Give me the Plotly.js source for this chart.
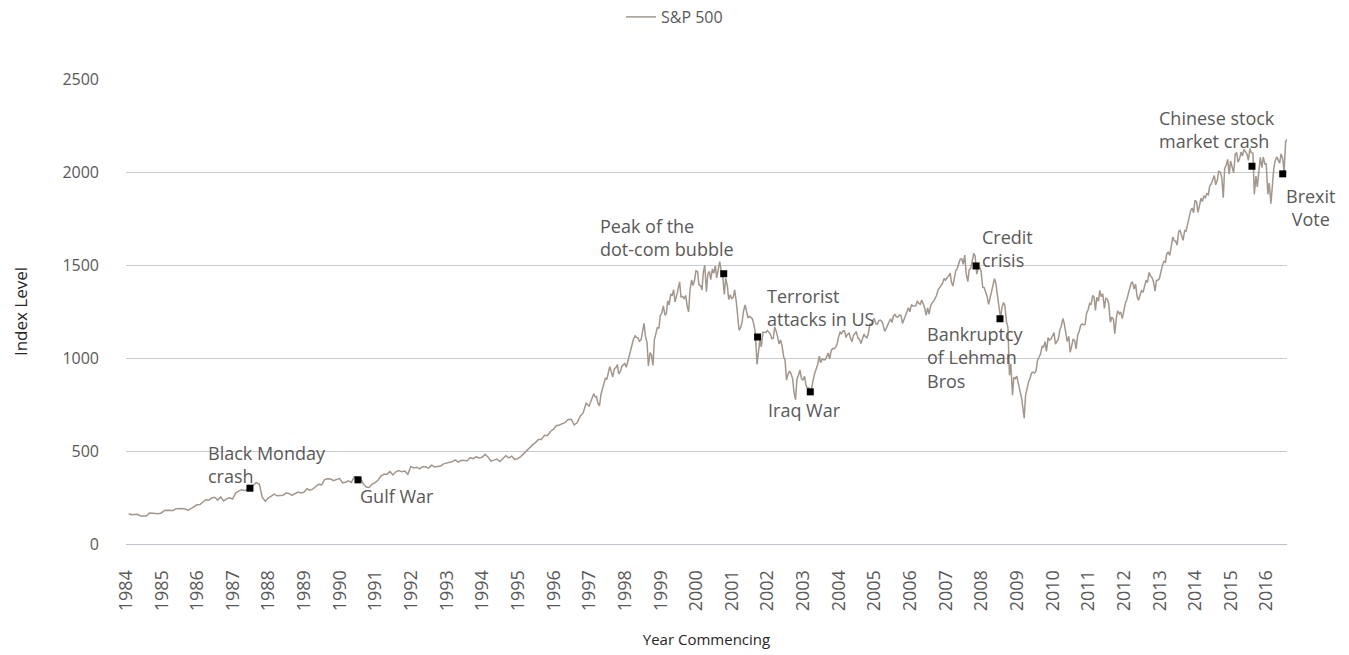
<!DOCTYPE html>
<html><head><meta charset="utf-8">
<script src="https://cdn.plot.ly/plotly-3.0.1.min.js"></script>
<style>html,body{margin:0;padding:0;background:#fff}#chart{width:1349px;height:655px}</style>
</head><body><div id="chart"></div>
<script>
// ---------------- DATA ----------------
const seriesName = 'S&P 500';
const xAxisTitle = 'Year Commencing';
const yAxisTitle = 'Index Level';

// Monthly index levels, Jan 1984 .. Dec 1996
const monthlyStartYear = 1984;
const monthlyLevels = [
  163,157,159,160,151,153,151,167,166,166,163,167,
  180,181,181,180,190,192,191,188,182,190,202,211,
  212,227,238,235,247,251,236,253,231,243,249,242,
  274,284,292,288,290,304,319,330,322,252,230,247,
  257,268,259,261,262,274,272,262,272,279,274,278,
  297,289,295,310,321,318,346,351,349,340,346,353,
  329,332,340,331,361,358,356,323,306,304,322,330,
  344,367,375,375,390,371,388,395,388,392,375,417,
  409,413,404,415,415,408,424,414,418,419,431,436,
  439,443,452,440,450,451,448,464,459,468,462,466,
  482,467,446,451,457,444,458,475,463,472,454,459,
  470,487,501,515,533,545,562,562,584,582,605,616,
  636,640,646,654,669,671,640,652,687,705,757,741
];

// Twice-monthly index levels (mid-month, month-end), Jan 1997 .. Jul 2016
const semiMonthlyStartYear = 1997;
const semiMonthlyLevels = [
  765,786, 808,791, 793,757, 743,801, 830,848, 893,885, 918,954, 924,899, 944,947, 965,915, 928,955, 963,970,
  950,980, 1020,1049, 1080,1101, 1119,1111, 1108,1090, 1098,1133, 1186,1120, 1083,957, 1029,1017, 960,1098, 1141,1163, 1162,1229,
  1244,1280, 1230,1238, 1307,1286, 1345,1335, 1367,1302, 1337,1373, 1409,1329, 1330,1320, 1337,1283, 1247,1363, 1420,1389, 1418,1469,
  1465,1394, 1388,1366, 1464,1499, 1356,1452, 1466,1421, 1479,1455, 1495,1431, 1492,1518, 1465,1437, 1342,1429, 1389,1315, 1340,1320,
  1326,1366, 1301,1240, 1150,1160, 1191,1249, 1285,1256, 1215,1224, 1215,1211, 1178,1134, 966,1041, 1097,1060, 1139,1139, 1136,1148,
  1139,1130, 1104,1107, 1166,1147, 1112,1076, 1097,1067, 1007,990, 881,912, 930,916, 889,815, 776,886, 909,936, 890,880,
  901,856, 834,841, 800,848, 885,917, 946,964, 1010,975, 994,990, 990,1008, 1027,996, 1039,1051, 1050,1058, 1075,1112,
  1139,1131, 1146,1145, 1110,1126, 1135,1107, 1087,1121, 1133,1141, 1106,1102, 1078,1104, 1128,1115, 1108,1130, 1184,1174, 1203,1212,
  1184,1181, 1201,1204, 1198,1181, 1143,1157, 1172,1192, 1211,1191, 1228,1234, 1220,1220, 1231,1229, 1186,1207, 1232,1249, 1270,1248,
  1287,1280, 1280,1281, 1307,1295, 1289,1311, 1291,1270, 1230,1270, 1236,1277, 1297,1304, 1322,1336, 1366,1378, 1396,1401, 1427,1418,
  1431,1438, 1456,1407, 1387,1421, 1472,1482, 1512,1531, 1533,1503, 1553,1455, 1411,1474, 1484,1527, 1562,1549, 1451,1481, 1486,1468,
  1380,1379, 1349,1331, 1288,1323, 1365,1386, 1426,1400, 1338,1280, 1215,1267, 1298,1283, 1193,1166, 907,969, 800,896, 889,903,
  850,826, 789,735, 677,798, 852,873, 893,919, 924,919, 932,987, 1004,1021, 1065,1057, 1088,1036, 1110,1096, 1102,1115,
  1137,1074, 1094,1104, 1150,1169, 1212,1187, 1136,1089, 1117,1031, 1065,1102, 1092,1049, 1125,1141, 1176,1183, 1178,1181, 1242,1258,
  1293,1286, 1336,1327, 1256,1326, 1305,1364, 1329,1345, 1266,1321, 1317,1292, 1192,1219, 1209,1131, 1215,1253, 1237,1247, 1212,1258,
  1293,1312, 1351,1366, 1403,1408, 1370,1398, 1330,1310, 1343,1362, 1353,1379, 1418,1406, 1461,1441, 1432,1412, 1360,1416, 1419,1426,
  1472,1498, 1520,1515, 1561,1569, 1552,1598, 1650,1631, 1628,1606, 1680,1686, 1661,1633, 1688,1682, 1721,1757, 1792,1806, 1781,1848,
  1838,1783, 1838,1859, 1841,1872, 1862,1884, 1878,1924, 1937,1960, 1981,1931, 1955,2003, 1998,1972, 1862,2018, 2039,2068, 1989,2059,
  2019,1995, 2097,2105, 2053,2068, 2107,2086, 2122,2107, 2096,2063, 2126,2104, 2102,1880, 1978,1920, 2033,2079, 2023,2080, 2043,2044,
  1880,1940, 1829,1932, 2015,2060, 2081,2065, 2047,2097, 2071,2000, 2164,2175
];

// Highlighted events
const eventLabels = [
  'Black Monday<br>crash', 'Gulf War', 'Peak of the<br>dot-com bubble', 'Terrorist<br>attacks in US',
  'Iraq War', 'Credit<br>crisis', 'Bankruptcy<br>of Lehman<br>Bros', 'Chinese stock<br>market crash', 'Brexit<br>Vote'
];
const eventDates = [
  '1987-06-24', '1990-07-05', '2000-10-08', '2001-09-20',
  '2003-03-14', '2007-11-07', '2008-07-09', '2015-08-04', '2016-06-14'
];
const eventValues = [300, 345, 1453, 1113, 818, 1495, 1211, 2031, 1990];

// ---------------- BUILD ----------------
function pad(n){ return (n < 10 ? '0' : '') + n; }
const xs = [], ys = [];
monthlyLevels.forEach((v, i) => {
  const y = monthlyStartYear + Math.floor(i / 12), m = i % 12 + 1;
  xs.push(y + '-' + pad(m) + '-28'); ys.push(v);
});
semiMonthlyLevels.forEach((v, i) => {
  const k = Math.floor(i / 2);
  const y = semiMonthlyStartYear + Math.floor(k / 12), m = k % 12 + 1;
  xs.push(y + '-' + pad(m) + (i % 2 ? '-28' : '-14')); ys.push(v);
});

const textColor = '#595959';
const font = 'Open Sans, sans-serif';

// label placement (pixel offsets from each event marker)
const labelPlacement = [
  {dx: -44, dy: 24, xa: 'left'},
  {dx: 0, dy: -16, xa: 'left'},
  {dx: -126, dy: 36, xa: 'left'},
  {dx: 7, dy: 29, xa: 'left'},
  {dx: -44, dy: -18, xa: 'left'},
  {dx: 4, dy: 17, xa: 'left'},
  {dx: -75, dy: -39, xa: 'left'},
  {dx: -95, dy: 37, xa: 'left'},
  {dx: 28, dy: -34, xa: 'center'}
];

const annotations = eventLabels.map((t, i) => ({
  x: eventDates[i], y: eventValues[i], xref: 'x', yref: 'y',
  text: t, showarrow: false,
  xanchor: labelPlacement[i].xa, yanchor: 'middle', align: labelPlacement[i].xa,
  xshift: labelPlacement[i].dx, yshift: labelPlacement[i].dy,
  font: {family: font, size: 18, color: textColor}
}));

const traces = [
  {
    x: xs, y: ys, type: 'scatter', mode: 'lines', name: seriesName,
    line: {color: '#a3978d', width: 1.5}
  },
  {
    x: eventDates, y: eventValues, type: 'scatter', mode: 'markers', showlegend: false,
    marker: {symbol: 'square', size: 7, color: '#000000'}
  }
];

const layout = {
  width: 1349, height: 655,
  margin: {l: 126, r: 62, t: 79, b: 111},
  paper_bgcolor: '#ffffff', plot_bgcolor: '#ffffff',
  font: {family: font, color: textColor},
  showlegend: true,
  legend: {
    orientation: 'h', xref: 'container', yref: 'container',
    x: 0.5, xanchor: 'center', y: 1, yanchor: 'top',
    font: {family: font, size: 16, color: textColor}
  },
  xaxis: {
    type: 'date', range: ['1984-01-01', '2016-07-28'],
    tick0: '1984-01-01', dtick: 'M12', tickformat: '%Y', tickangle: -90,
    tickfont: {family: font, size: 18, color: textColor},
    showgrid: false, zeroline: false, showline: false,
    ticks: 'outside', ticklen: 10, tickcolor: 'rgba(0,0,0,0)',
    ticklabelstandoff: 8,
    title: {text: xAxisTitle, font: {family: font, size: 15, color: '#262626'}, standoff: 24},
    automargin: false
  },
  yaxis: {
    range: [0, 2500], dtick: 500, tick0: 0,
    tickfont: {family: font, size: 16, color: textColor},
    showgrid: true, gridcolor: '#c9cbcf', gridwidth: 1,
    zeroline: true, zerolinecolor: '#bfc3c9', zerolinewidth: 1,
    showline: false, ticks: '', ticklabelstandoff: 26,
    title: {text: yAxisTitle, font: {family: font, size: 17, color: '#262626'}, standoff: 30},
    automargin: false
  },
  annotations: annotations
};

Plotly.newPlot('chart', traces, layout, {displayModeBar: false, staticPlot: true});
</script>
</body></html>
